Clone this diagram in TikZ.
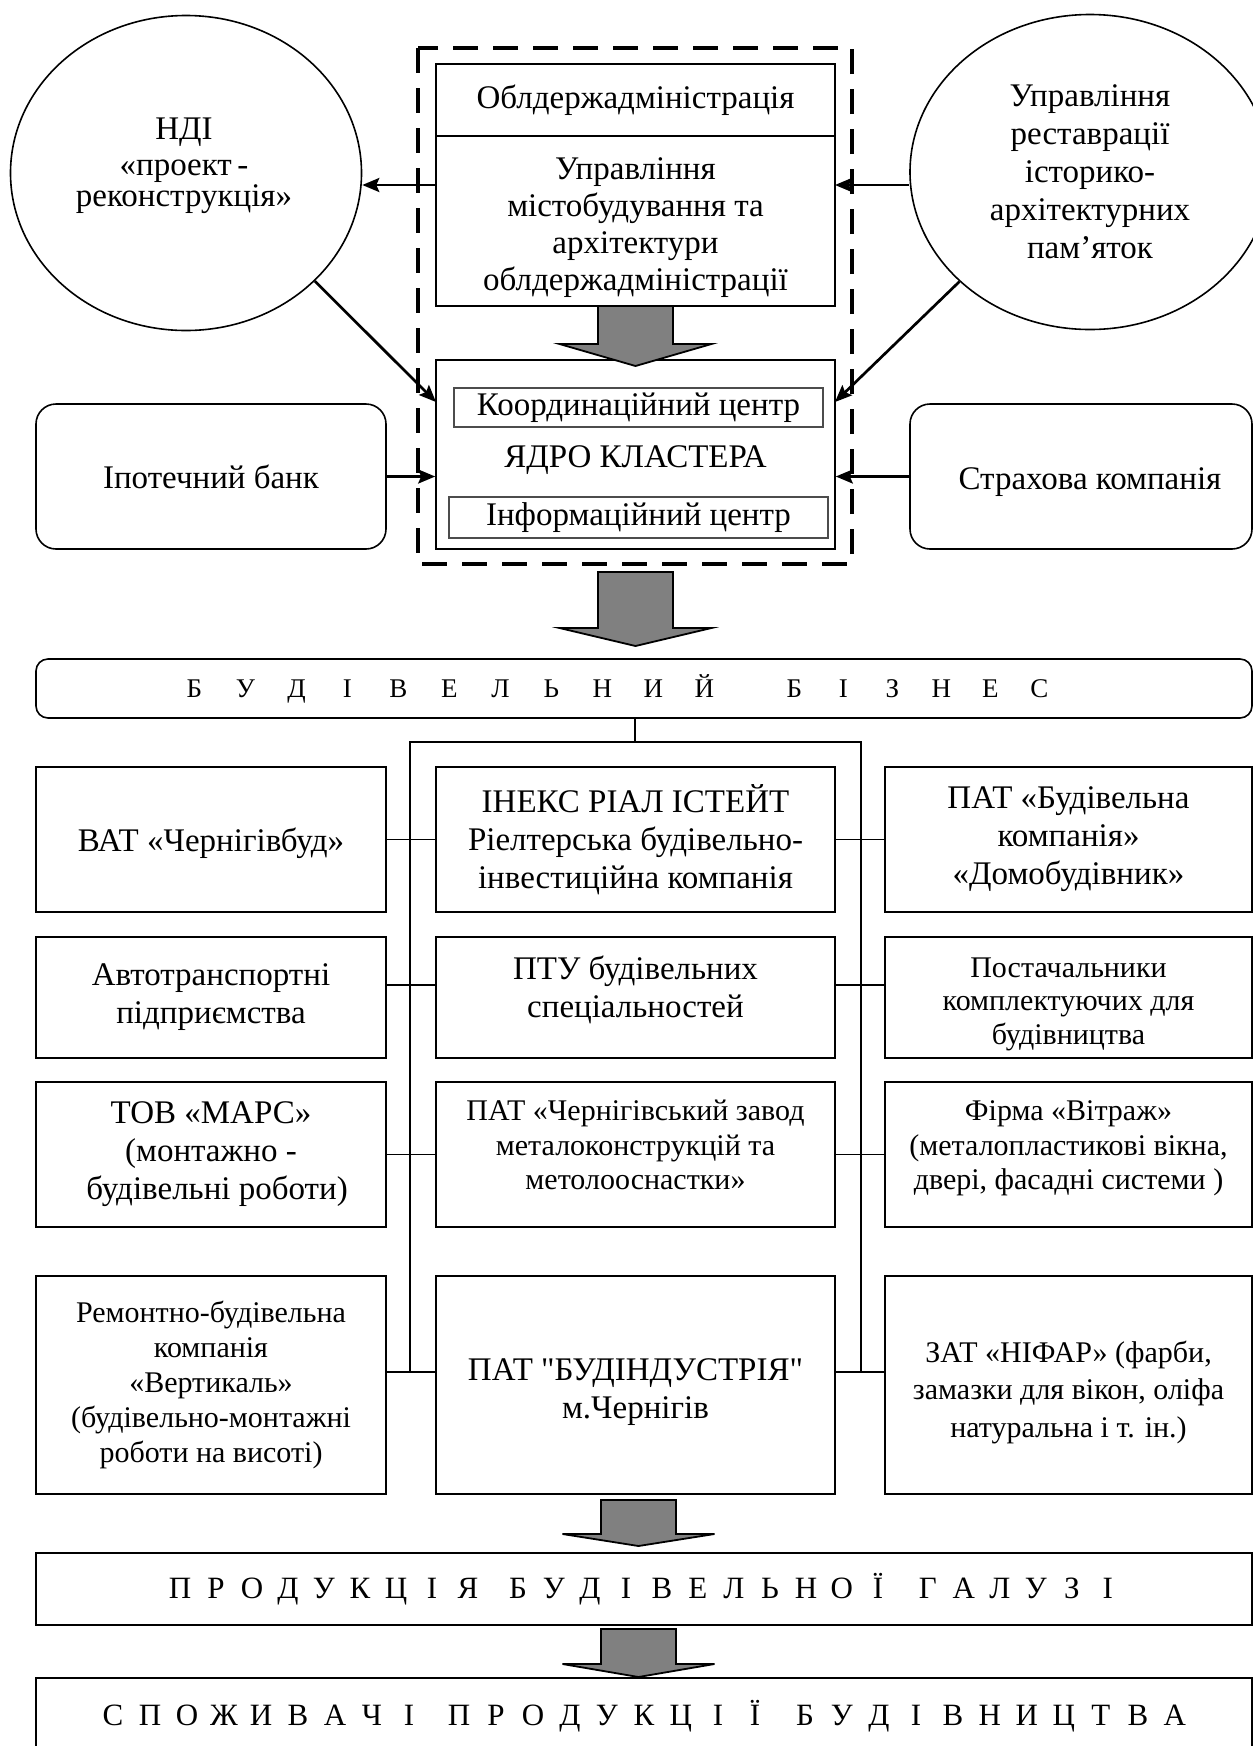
\documentclass[tikz,border=0pt]{standalone}
\usepackage{fontspec}
\setmainfont{Liberation Serif}[Ligatures=TeXOff]
\usetikzlibrary{shapes.geometric,arrows.meta}

\makeatletter
\newcommand\spacedword[2]{\@tfor\sw@ch:=#2\do{\makebox[#1]{\sw@ch}}}
\makeatother
% lines of a box, moved up or down inside it
\newcommand\textnudge[2]{\raisebox{#1}[\height][\depth]{\begin{tabular}{@{}c@{}}#2\end{tabular}}}
\newcommand\bodyfs{\fontsize{16.5pt}{19pt}\selectfont}
\newcommand\smallfs{\fontsize{15pt}{17.5pt}\selectfont}
\newcommand\capfs{\fontsize{13.5pt}{16pt}\selectfont}
\newcommand\bandfs{\fontsize{15.5pt}{18pt}\selectfont}
\definecolor{arrgray}{gray}{0.5}

\tikzset{
  box/.style={draw,line width=0.8pt,inner sep=0pt,align=center,font=\bodyfs},
  sbox/.style={box,font=\smallfs},
  rbox/.style={box,rounded corners=10pt},
  band/.style={draw,line width=0.8pt,inner sep=0pt},
  circ/.style={ellipse,draw,line width=0.8pt,inner sep=0pt,align=center,font=\bodyfs},
  inbox/.style={draw=black!70,line width=0.6pt,inner sep=0pt,font=\bodyfs},
  arr/.style={line width=1.35pt,-{Stealth[length=8.5pt,width=7pt,inset=1.5pt]}},
  conn/.style={line width=0.6pt},
  dashframe/.style={line width=1.6pt,dash pattern=on 12.5pt off 7.5pt},
  grayarr/.style={draw,line width=0.9pt,fill=arrgray},
  pics/downarr/.style 2 args={code={
    \path[grayarr] (-37.5,0) -- (-37.5,#1) -- (-76,#1) -- (0,#1+#2) -- (76,#1) -- (37.5,#1) -- (37.5,0) -- cycle;
  }}
}

\begin{document}
\begin{tikzpicture}[x=0.5pt,y=-0.5pt]
\clip (0,0) rectangle (1253,1746);

% cluster core
\draw[dashframe] (418,48) rectangle (852,564);
\node[box,minimum width=199.5pt,minimum height=36pt] (obl) at (635.5,100) {Облдержадміністрація};
\node[box,font={\fontsize{16.5pt}{18.5pt}\selectfont},minimum width=199.5pt,minimum height=85pt] (upr) at (635.5,221)
  {\textnudge{-3.3pt}{Управління\\містобудування та\\архітектури\\облдержадміністрації}};
\node[box,minimum width=199.5pt,minimum height=94.5pt] (core) at (635.5,454.5) {\textnudge{-2.9pt}{ЯДРО КЛАСТЕРА}};
\node[inbox,minimum width=184.5pt,minimum height=19.5pt] (koord) at (638.5,407.5) {Координаційний центр};
\node[inbox,minimum width=189.5pt,minimum height=20.5pt] (inf) at (638.5,517.5) {Інформаційний центр};

% partners
\node[circ,minimum width=175.5pt,minimum height=157.5pt] (ndi) at (186,173) {};
\node[align=center,font=\bodyfs] (ndit) at (184,166) {НДІ\\[-1pt]«проект\,-\\[-3.5pt]реконструкція»};
\node[circ,minimum width=180pt,minimum height=157.5pt] (rc) at (1090,172) {Управління\\реставрації\\історико-\\архітектурних\\пам’яток};
\node[rbox,minimum width=175pt,minimum height=72.5pt] (ipot) at (211,476.5) {Іпотечний банк};
\node[rbox,minimum width=171pt,minimum height=72.5pt] (strah) at (1081,476.5) {\textnudge{-2.9pt}{\hspace*{9pt}Страхова компанія}};

\coordinate (ul) at (436,185);
\coordinate (ur) at (835,185);
\coordinate (cl) at (436,402);
\coordinate (cr) at (835,402);
\draw[arr] (ul) -- (ul -| ndi.east);
\draw[arr] (ur -| rc.west) -- (ur);
\draw[arr] (ndi.-40) -- (cl);
\draw[arr] (rc.-140) -- (cr);
\draw[arr] (ipot.east) -- (ipot.east -| core.west);
\draw[arr] (strah.west) -- (strah.west -| core.east);

\pic at (635.5,306) {downarr={38}{22}};
\pic at (635.5,572) {downarr={56}{18}};

% business
\node[band,rounded corners=6pt,minimum width=608pt,minimum height=29.5pt,font=\capfs] (biz) at (644,688.5)
  {\spacedword{25.5pt}{БУДІВЕЛЬНИЙ}\hspace{20pt}\spacedword{24.5pt}{БІЗНЕС}\hspace{27.5pt}\mbox{}};

\node[box,minimum width=175pt,minimum height=72.5pt] (l1) at (211,839.5) {\textnudge{-2pt}{ВАТ «Чернігівбуд»}};
\node[box,minimum width=199.5pt,minimum height=72.5pt] (m1) at (635.5,839.5) {ІНЕКС РІАЛ ІСТЕЙТ\\Ріелтерська будівельно-\\інвестиційна компанія};
\node[box,minimum width=183.5pt,minimum height=72.5pt] (r1) at (1068.5,839.5) {ПАТ «Будівельна\\компанія»\\«Домобудівник»};

\node[box,minimum width=175pt,minimum height=60.5pt] (l2) at (211,997.5) {Автотранспортні\\підприємства};
\node[box,minimum width=199.5pt,minimum height=60.5pt] (m2) at (635.5,997.5) {\textnudge{3.3pt}{ПТУ будівельних\\спеціальностей}};
\node[box,font={\fontsize{15pt}{16.75pt}\selectfont},minimum width=183.5pt,minimum height=60.5pt] (r2) at (1068.5,997.5)
  {\textnudge{-3.2pt}{Постачальники\\комплектуючих для\\будівництва}};

\node[box,minimum width=175pt,minimum height=72.5pt] (l3) at (211,1154.5) {ТОВ «МАРС»\\(монтажно -\\\hspace{6pt}будівельні роботи)};
\node[box,font={\fontsize{15pt}{17.25pt}\selectfont},minimum width=199.5pt,minimum height=72.5pt] (m3) at (635.5,1154.5)
  {\textnudge{3pt}{ПАТ «Чернігівський завод\\металоконструкцій та\\метолооснастки»}};
\node[box,font={\fontsize{15pt}{17.25pt}\selectfont},minimum width=183.5pt,minimum height=72.5pt] (r3) at (1068.5,1154.5)
  {\textnudge{3pt}{Фірма «Вітраж»\\(металопластикові вікна,\\двері, фасадні системи )}};

\node[sbox,minimum width=175pt,minimum height=109pt] (l4) at (211,1385) {Ремонтно-будівельна\\компанія\\«Вертикаль»\\(будівельно-монтажні\\роботи на висоті)};
\node[box,minimum width=199.5pt,minimum height=109pt] (m4) at (635.5,1385) {\textnudge{-3.6pt}{ПАТ "БУДІНДУСТРІЯ"\\м.Чернігів}};
\node[box,font={\fontsize{15pt}{18.75pt}\selectfont},minimum width=183.5pt,minimum height=109pt] (r4) at (1068.5,1385)
  {\textnudge{-3.5pt}{ЗАТ «НІФАР» (фарби,\\замазки для вікон, оліфа\\натуральна і т. ін.)}};

\coordinate (trunk) at (635,742);
\coordinate (bl) at (410,742);
\coordinate (br) at (861,742);
\coordinate (bl4) at (410,1372);
\coordinate (br4) at (861,1372);
\draw[conn] (biz.south -| trunk) -- (trunk);
\draw[conn] (bl4) -- (bl) -- (br) -- (br4);
\draw[conn] (l1.east) -- (m1.west);
\draw[conn] (m1.east) -- (r1.west);
\draw[conn] ([yshift=6.25pt]l2.east) -- ([yshift=6.25pt]m2.west);
\draw[conn] ([yshift=6.25pt]m2.east) -- ([yshift=6.25pt]r2.west);
\draw[conn] (l3.east) -- (m3.west);
\draw[conn] (m3.east) -- (r3.west);
\draw[conn] ([yshift=6.5pt]l4.east) -- ([yshift=6.5pt]m4.west);
\draw[conn] ([yshift=6.5pt]m4.east) -- ([yshift=6.5pt]r4.west);

% output
\pic at (638.5,1500) {downarr={34}{12}};
\node[band,minimum width=608pt,minimum height=36pt,font=\bandfs] (prod) at (644,1589)
  {\spacedword{18pt}{ПРОДУКЦІЯ}\hspace{7pt}\spacedword{18pt}{БУДІВЕЛЬНОЇ}\hspace{7pt}\spacedword{18pt}{ГАЛУЗІ}};
\pic at (638.5,1629) {downarr={35}{13}};
\node[band,minimum width=608pt,minimum height=38pt,font=\bandfs] (cons) at (644,1716)
  {\spacedword{18.5pt}{СПОЖИВАЧІ}\hspace{6.5pt}\spacedword{18.5pt}{ПРОДУКЦІЇ}\hspace{6.5pt}\spacedword{18.5pt}{БУДІВНИЦТВА}};
\end{tikzpicture}
\end{document}
